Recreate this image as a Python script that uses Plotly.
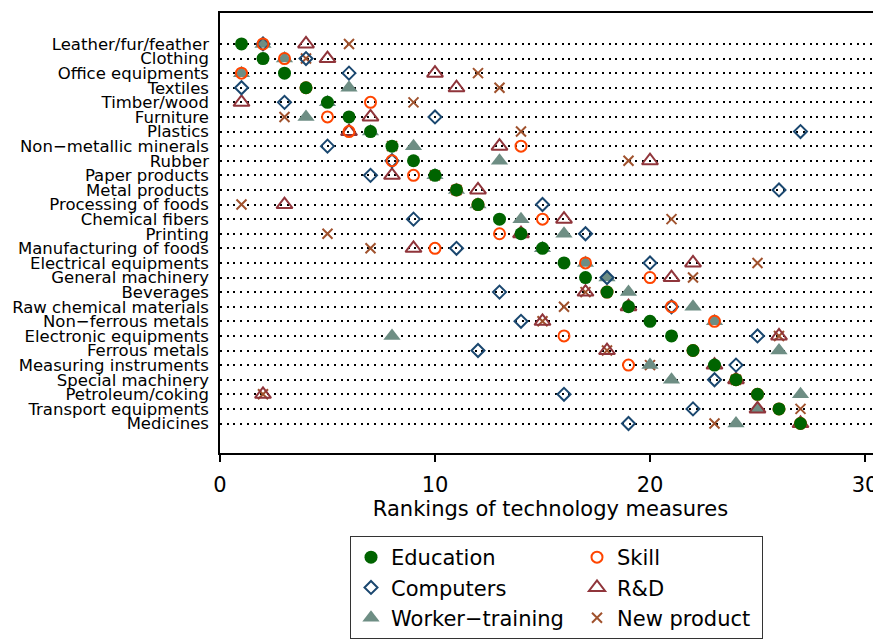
import plotly.graph_objects as go

industries = ["Leather/fur/feather", "Clothing", "Office equipments", "Textiles",
              "Timber/wood", "Furniture", "Plastics", "Non\u2212metallic minerals",
              "Rubber", "Paper products", "Metal products", "Processing of foods",
              "Chemical fibers", "Printing", "Manufacturing of foods",
              "Electrical equipments", "General machinery", "Beverages",
              "Raw chemical materials", "Non\u2212ferrous metals", "Electronic equipments",
              "Ferrous metals", "Measuring instruments", "Special machinery",
              "Petroleum/coking", "Transport equipments", "Medicines"]

education = [1, 2, 3, 4, 5, 6, 7, 8, 9, 10, 11, 12, 13, 14, 15, 16, 17, 18, 19, 20,
             21, 22, 23, 24, 25, 26, 27]
skill = [2, 3, 1, 4, 7, 5, 6, 14, 8, 9, 11, 12, 15, 13, 10, 17, 20, 18, 21, 23,
         16, 22, 19, 24, 25, 26, 27]
computers = [2, 4, 6, 1, 3, 10, 27, 5, 8, 7, 26, 15, 9, 17, 11, 20, 18, 13, 21, 14,
             25, 12, 24, 23, 16, 22, 19]
rnd = [4, 5, 10, 11, 1, 7, 6, 13, 20, 8, 12, 3, 16, 14, 9, 22, 21, 17, 19, 15,
       26, 18, 23, 24, 2, 25, 27]
worker_training = [2, 3, 1, 6, 5, 4, 7, 9, 13, 10, 11, 12, 14, 16, 15, 17, 18, 19,
                   22, 23, 8, 26, 20, 21, 27, 25, 24]
new_product = [6, 4, 12, 13, 9, 3, 14, 8, 19, 10, 11, 1, 21, 5, 7, 25, 22, 17, 16,
               15, 26, 18, 20, 24, 2, 27, 23]

rows = list(range(len(industries)))
FONT = "DejaVu Sans"
OFF = 8  # page body margin

fig = go.Figure()

# drawn bottom-to-top; legend order set via legendrank
series = [
    ("New product", new_product, dict(symbol="x-thin-open", size=10, color="#a0522d",
                                      line=dict(color="#a0522d", width=2)), 6, 140),
    ("Worker\u2212training", worker_training, dict(symbol="triangle-up", size=15, color="#6e8e84",
                                                  line=dict(width=0)), 5, 181),
    ("R&D", rnd, dict(symbol="triangle-up-open", size=14, color="#90353b",
                      line=dict(color="#90353b", width=2)), 4, 140),
    ("Computers", computers, dict(symbol="diamond-open", size=10, color="#1a476f",
                                  line=dict(color="#1a476f", width=2)), 3, 181),
    ("Skill", skill, dict(symbol="circle-open", size=11, color="#ff4500",
                          line=dict(color="#ff4500", width=2)), 2, 140),
    ("Education", education, dict(symbol="circle", size=13, color="#006400",
                                  line=dict(width=0)), 1, 181),
]

for name, vals, marker, rank, lw in series:
    fig.add_trace(go.Scatter(x=vals, y=rows, mode="markers", name=name,
                             marker=marker, legendrank=rank, legendwidth=lw,
                             cliponaxis=False))

fig.update_layout(
    width=881, height=639,
    margin=dict(l=220 - OFF, r=OFF, t=13 - OFF, b=186 + OFF),
    paper_bgcolor="white", plot_bgcolor="white",
    font=dict(family=FONT, color="black"),
    showlegend=True,
    legend=dict(orientation="h", xref="container", yref="container",
                x=(350 - OFF) / 881, y=1 - (536 - OFF) / 639,
                xanchor="left", yanchor="top",
                bordercolor="#333333", borderwidth=1,
                font=dict(family=FONT, size=21, color="black"),
                entrywidthmode="pixels", traceorder="normal",
                bgcolor="white"),
    xaxis=dict(range=[0, 661 / 21.5], tickvals=[0, 10, 20, 30],
               ticks="outside", ticklen=7, tickwidth=1.5, tickcolor="black",
               showline=True, linecolor="black", linewidth=1.5, mirror=True,
               showgrid=False, zeroline=False, automargin=False,
               ticklabelstandoff=5,
               tickfont=dict(family=FONT, size=21, color="black"),
               title=dict(text="Rankings of technology measures",
                          font=dict(family=FONT, size=21, color="black"),
                          standoff=0)),
    yaxis=dict(range=[28.02, -2.12], tickvals=rows, ticktext=industries,
               ticks="", showline=True, linecolor="black", linewidth=1.5,
               showgrid=True, gridcolor="black", gridwidth=2,
               griddash="2px,4.7px", zeroline=False, automargin=False,
               ticklabelstandoff=6,
               tickfont=dict(family=FONT, size=16.5, color="black")),
)

fig.write_html("out.html")
